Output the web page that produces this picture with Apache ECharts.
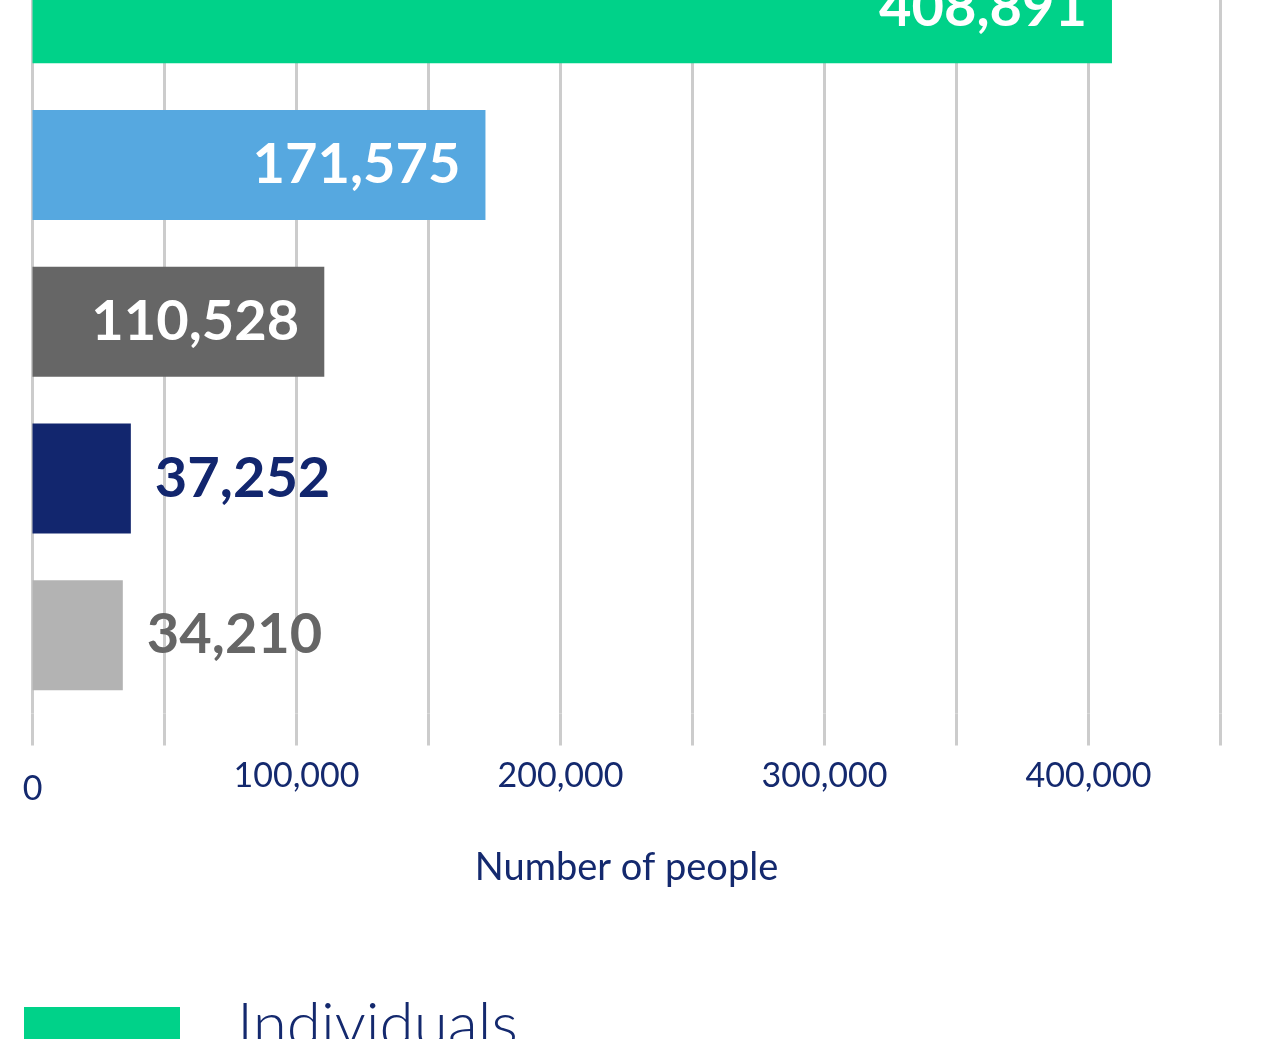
<!DOCTYPE html>
<html>
<head>
<meta charset="utf-8">
<script src="https://cdn.jsdelivr.net/npm/echarts@6/dist/echarts.min.js"></script>
<style>
html,body{margin:0;padding:0;background:#fff;overflow:hidden;}
#wrap{width:1281px;height:1039px;overflow:hidden;position:relative;}
#chart{width:1281px;height:1109px;position:absolute;left:0;top:-70px;}
</style>
</head>
<body>
<div id="wrap"><div id="chart"></div></div>
<script>
// Data
var categories = ['Individuals', 'Group 2', 'Group 3', 'Group 4', 'Group 5'];
var values = [408891, 171575, 110528, 37252, 34210];
var barColors = ['#00D289', '#56A8E0', '#666666', '#12266E', '#B3B3B3'];
var labelInside = [true, true, true, false, false];
var outsideLabelColors = ['#ffffff', '#ffffff', '#ffffff', '#12266E', '#666666'];
var xTickLabels = ['0', '100,000', '200,000', '300,000', '400,000'];
var legendNames = ['Individuals'];

var navy = '#14296E';
var fontFam = 'Lato, "Open Sans", sans-serif';

var series = categories.map(function (name, i) {
  var d = categories.map(function (c, j) { return j === i ? values[i] : '-'; });
  return {
    name: name,
    type: 'bar',
    stack: 'total',
    barWidth: 110,
    data: d,
    itemStyle: { color: barColors[i] },
    label: {
      show: true,
      position: labelInside[i] ? 'insideRight' : 'right',
      distance: labelInside[i] ? 25 : 24,
      color: labelInside[i] ? '#ffffff' : outsideLabelColors[i],
      fontFamily: fontFam,
      fontWeight: 'bold',
      fontSize: 56,
      formatter: function (p) { return p.value.toLocaleString('en-US'); }
    }
  };
});

var chart = echarts.init(document.getElementById('chart'));
chart.setOption({
  animation: false,
  backgroundColor: '#ffffff',
  grid: { left: 32.5, right: 60.5, top: 0, bottom: 325.5, containLabel: false },
  legend: {
    data: legendNames,
    left: 19,
    top: 1060,
    itemWidth: 156,
    itemHeight: 38,
    icon: 'rect',
    textStyle: {
      color: navy,
      fontFamily: fontFam,
      fontWeight: 300,
      fontSize: 62,
      padding: [0, 0, 0, 52]
    },
    selectedMode: false
  },
  xAxis: {
    type: 'value',
    min: 0,
    max: 450000,
    interval: 50000,
    name: 'Number of people',
    nameLocation: 'middle',
    nameGap: 135,
    nameTextStyle: { color: navy, fontFamily: fontFam, fontSize: 38 },
    axisLine: { show: false },
    axisTick: { show: true, length: 32, lineStyle: { color: '#cccccc', width: 3 } },
    splitLine: { show: true, lineStyle: { color: '#cccccc', width: 3 } },
    axisLabel: {
      margin: 46,
      color: navy,
      fontFamily: fontFam,
      fontSize: 34,
      formatter: function (v) {
        if (v === 0) return '{z|' + xTickLabels[0] + '}';
        if (v % 100000 === 0) return xTickLabels[v / 100000];
        return '';
      },
      rich: { z: { padding: [13, 0, 0, 0], color: navy, fontFamily: fontFam, fontSize: 34 } }
    }
  },
  yAxis: {
    type: 'category',
    data: categories,
    inverse: true,
    axisLine: { show: false },
    axisTick: { show: false },
    axisLabel: { show: false },
    splitLine: { show: false }
  },
  series: series
});
</script>
</body>
</html>
